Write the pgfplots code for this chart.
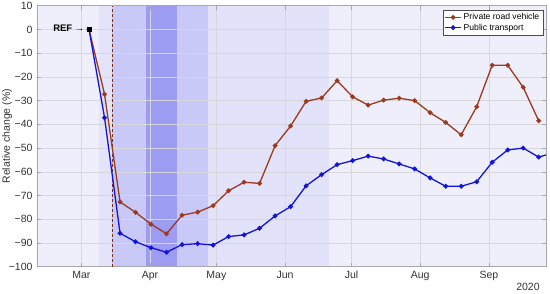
\documentclass[border=0pt]{standalone}
\usepackage{fontspec}
\setmainfont{Liberation Sans}
\usepackage{pgfplots}
\pgfplotsset{compat=1.18}

\definecolor{bg0}{HTML}{EFEFFB}
\definecolor{bg1}{HTML}{E3E3FA}
\definecolor{bg2}{HTML}{C9C9F8}
\definecolor{bg3}{HTML}{9C9CF2}
\definecolor{bg4}{HTML}{E2E2FA}
\definecolor{prv}{HTML}{9A3A1E}
\definecolor{pub}{HTML}{1414D8}
\definecolor{frm}{HTML}{A8A8B0}

\begin{document}
\begin{tikzpicture}[x=1pt,y=1pt]
\begin{axis}[
    name=ax,
    set layers,
    scale only axis,
    width=509pt, height=261pt,
    xmin=-20, xmax=209.8,
    ymin=-100, ymax=10,
    xtick={0,31,61,92,122,153,184},
    xticklabels={Mar,Apr,May,Jun,Jul,Aug,Sep},
    ytick={-100,-90,...,10},
    yticklabels={−100,−90,−80,−70,−60,−50,−40,−30,−20,−10,0,10},
    tick align=inside,
    major tick length=4pt,
    tick style={frm, line width=0.5pt},
    grid=major,
    grid style={frm!45, line width=0.4pt},
    axis line style={frm, line width=0.8pt},
    axis background/.style={fill=bg0},
    ticklabel style={font=\fontsize{10.5}{12}\selectfont, text=black!80},
    xticklabel style={yshift=-1pt},
    yticklabel style={xshift=-1pt},
    ylabel={Relative change (\%)},
    ylabel style={font=\fontsize{10.5}{12}\selectfont, text=black!80, yshift=-10pt},
    legend style={at={(0.994,0.984)}, anchor=north east, draw=black!70,
        font=\fontsize{8.6}{9.5}\selectfont, inner sep=1.5pt, row sep=-1.5pt,
        fill=white, cells={anchor=west}},
    legend image code/.code={
        \draw[mark repeat=2,mark phase=2] plot coordinates {(0pt,0pt) (8pt,0pt) (16pt,0pt)};},
]
% shaded periods
\addplot[on layer=axis background, fill=bg1, draw=none, forget plot] coordinates {(8,-100) (8,10) (14,10) (14,-100)} -- cycle;
\addplot[on layer=axis background, fill=bg2, draw=none, forget plot] coordinates {(14,-100) (14,10) (29,10) (29,-100)} -- cycle;
\addplot[on layer=axis background, fill=bg3, draw=none, forget plot] coordinates {(29,-100) (29,10) (43,10) (43,-100)} -- cycle;
\addplot[on layer=axis background, fill=bg2, draw=none, forget plot] coordinates {(43,-100) (43,10) (57,10) (57,-100)} -- cycle;
\addplot[on layer=axis background, fill=bg4, draw=none, forget plot] coordinates {(57,-100) (57,10) (112,10) (112,-100)} -- cycle;
% lockdown marker
\addplot[prv!80!black, densely dashed, line width=0.6pt, forget plot] coordinates {(14,-100) (14,10)};

\addplot[prv, line width=1.3pt, mark=*, mark size=1.7pt] coordinates {
(3.5,0) (10.5,-27.3) (17.5,-72.7) (24.5,-77.1) (31.5,-82.1) (38.5,-86.1)
(45.5,-78.3) (52.5,-77.0) (59.5,-74.3) (66.5,-68.0) (73.5,-64.4) (80.5,-64.9)
(87.5,-49.0) (94.5,-40.7) (101.5,-30.3) (108.5,-28.9) (115.5,-21.6) (122.5,-28.4)
(129.5,-31.9) (136.5,-29.8) (143.5,-29.0) (150.5,-30.0) (157.5,-35.1) (164.5,-39.2)
(171.5,-44.4) (178.5,-32.6) (185.5,-15.1) (192.5,-15.1) (199.5,-24.4) (206.5,-38.5)
};
\addlegendentry{Private road vehicle}
\addplot[pub, line width=1.3pt, mark=*, mark size=1.7pt] coordinates {
(3.5,0) (10.5,-37.2) (17.5,-85.9) (24.5,-89.5) (31.5,-92.0) (38.5,-93.9)
(45.5,-90.7) (52.5,-90.3) (59.5,-90.9) (66.5,-87.3) (73.5,-86.6) (80.5,-83.8)
(87.5,-78.6) (94.5,-74.7) (101.5,-65.9) (108.5,-61.2) (115.5,-57.0) (122.5,-55.3)
(129.5,-53.4) (136.5,-54.6) (143.5,-56.7) (150.5,-58.8) (157.5,-62.6) (164.5,-66.1)
(171.5,-66.1) (178.5,-64.2) (185.5,-56.0) (192.5,-50.8) (199.5,-50.0) (206.5,-53.8)
(213.5,-51.9)
};
\addlegendentry{Public transport}
% reference point
\addplot[black, only marks, mark=square*, mark size=2.2pt, forget plot] coordinates {(3.5,0)};
\node[anchor=east, font=\fontsize{9.5}{10}\selectfont\bfseries, inner sep=0pt]
    at (axis cs:1.5,0.4) {REF \textmd{→}};
\end{axis}
\node[font=\fontsize{10.5}{12}\selectfont, text=black!80, xshift=-18pt, yshift=-20.6pt]
    at (ax.south east) {2020};
\pgfresetboundingbox
\path[use as bounding box] (-37,-27.3) rectangle (513,266.7);
\end{tikzpicture}
\end{document}
